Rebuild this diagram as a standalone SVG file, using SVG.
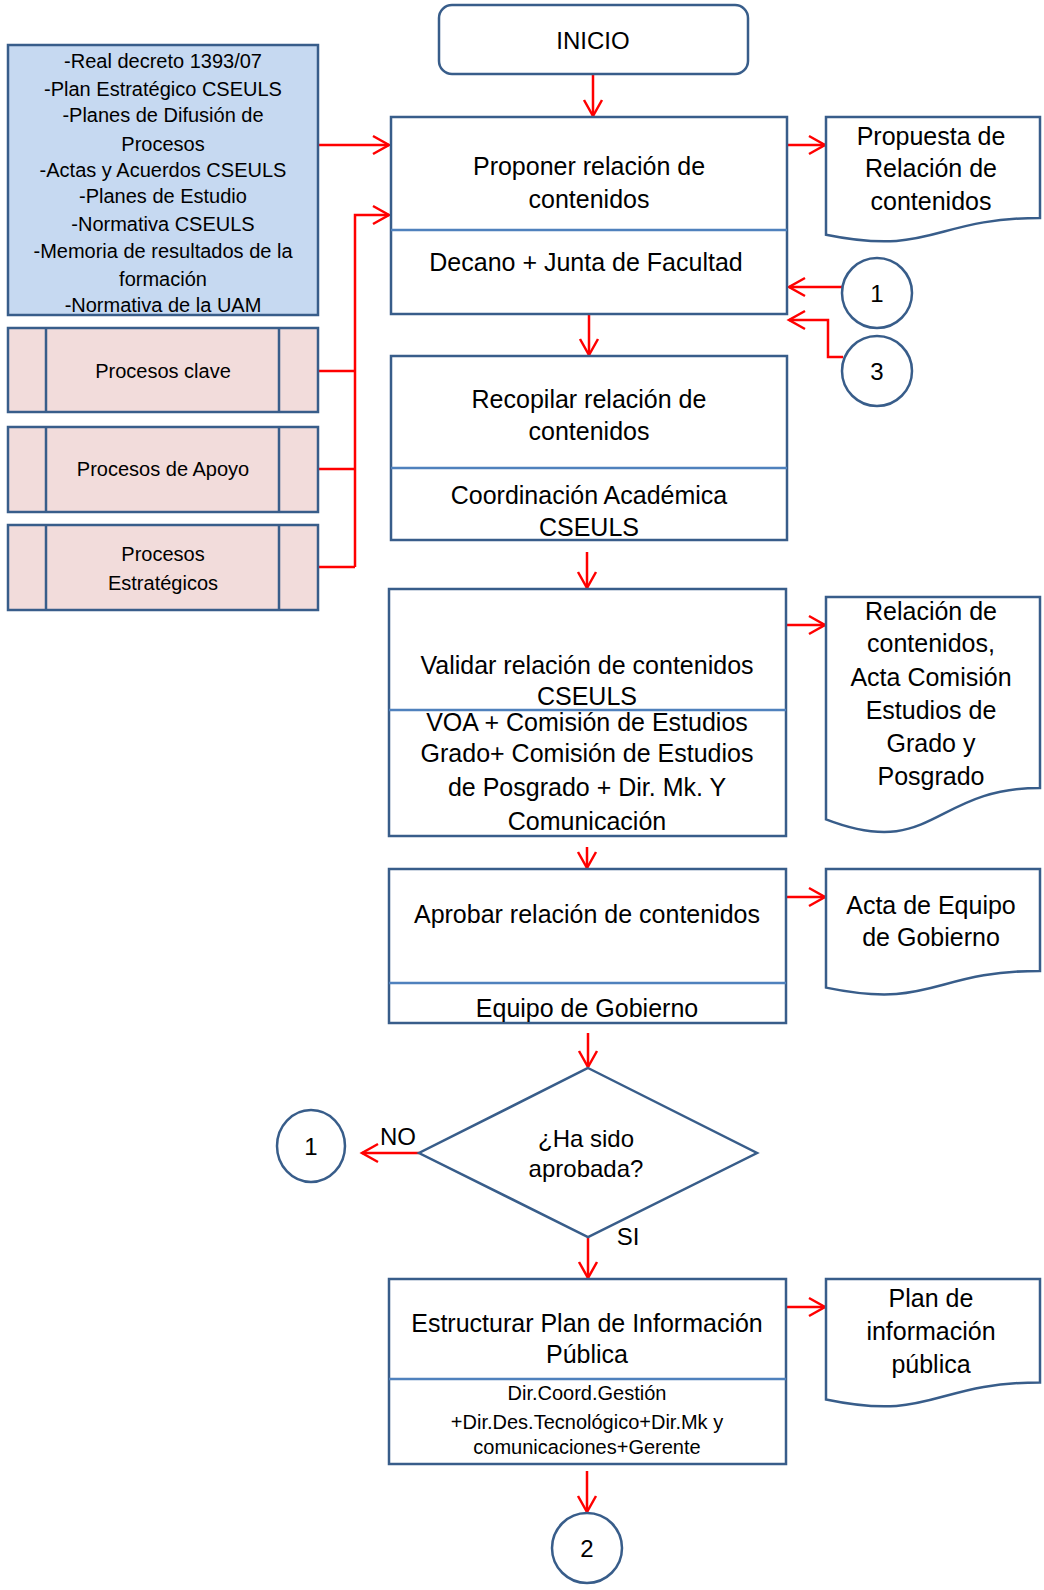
<svg xmlns="http://www.w3.org/2000/svg" width="1044" height="1590" viewBox="0 0 1044 1590">
<defs>
<style>
.box{fill:#fff;stroke:#385D8A;stroke-width:2.5}
.inp{fill:#C6D9F1;stroke:#385D8A;stroke-width:2.5}
.proc{fill:#F2DCDB;stroke:#385D8A;stroke-width:2.5}
.div{stroke:#4F81BD;stroke-width:2.5;fill:none}
.ln{stroke:#385D8A;stroke-width:2.5;fill:none}
.con{stroke:#FF0000;stroke-width:2.5;fill:none}
.arr{marker-end:url(#ah)}
text{font-family:"Liberation Sans",Arial,sans-serif;fill:#000;text-anchor:middle;dominant-baseline:central}
.t24{font-size:24px}
.t25{font-size:25px}
.t20{font-size:20px}
</style>
<marker id="ah" viewBox="-20 -12 24 24" markerWidth="24" markerHeight="24" refX="0" refY="0" orient="auto" markerUnits="userSpaceOnUse">
<path d="M-16,-9 L0,0 L-16,9" fill="none" stroke="#FF0000" stroke-width="2.5"/>
</marker>
</defs>

<g id="connectors">
<path class="con arr" d="M593,74 V116"/>
<path class="con arr" d="M318,145 H389"/>
<path class="con" d="M318,371 H355 M318,469 H355 M318,567 H355"/>
<path class="con arr" d="M355,567 V215 H389"/>
<path class="con arr" d="M787,145 H825"/>
<path class="con arr" d="M843,287 H789"/>
<path class="con arr" d="M843,357 H828 V320 H789"/>
<path class="con arr" d="M589,314 V355"/>
<path class="con arr" d="M587,552 V588"/>
<path class="con arr" d="M786,625 H825"/>
<path class="con arr" d="M587,847 V868"/>
<path class="con arr" d="M786,897 H825"/>
<path class="con arr" d="M588,1033 V1067"/>
<path class="con arr" d="M419,1153 H362"/>
<path class="con arr" d="M588,1237 V1278"/>
<path class="con arr" d="M786,1307 H825"/>
<path class="con arr" d="M587,1471 V1512"/>
</g>

<g id="inicio">
<rect class="box" x="439" y="5" width="309" height="69" rx="13"/>
<text class="t24" x="593" y="40">INICIO</text>
</g>

<g id="entradas">
<rect class="inp" x="8" y="45" width="310" height="270"/>
<text class="t20" x="163" y="61">-Real decreto 1393/07</text>
<text class="t20" x="163" y="89">-Plan Estratégico CSEULS</text>
<text class="t20" x="163" y="115">-Planes de Difusión de</text>
<text class="t20" x="163" y="144">Procesos</text>
<text class="t20" x="163" y="170">-Actas y Acuerdos CSEULS</text>
<text class="t20" x="163" y="196">-Planes de Estudio</text>
<text class="t20" x="163" y="224">-Normativa CSEULS</text>
<text class="t20" x="163" y="251">-Memoria de resultados de la</text>
<text class="t20" x="163" y="279">formación</text>
<text class="t20" x="163" y="305">-Normativa de la UAM</text>
</g>

<g id="procesos-clave">
<rect class="proc" x="8" y="328" width="310" height="84"/>
<path class="ln" d="M46,328 V412 M279,328 V412"/>
<text class="t20" x="163" y="371">Procesos clave</text>
</g>

<g id="procesos-apoyo">
<rect class="proc" x="8" y="427" width="310" height="85"/>
<path class="ln" d="M46,427 V512 M279,427 V512"/>
<text class="t20" x="163" y="469">Procesos de Apoyo</text>
</g>

<g id="procesos-estrategicos">
<rect class="proc" x="8" y="525" width="310" height="85"/>
<path class="ln" d="M46,525 V610 M279,525 V610"/>
<text class="t20" x="163" y="554">Procesos</text>
<text class="t20" x="163" y="583">Estratégicos</text>
</g>

<g id="proponer">
<rect class="box" x="391" y="117" width="396" height="197"/>
<line class="div" x1="391" y1="230" x2="787" y2="230"/>
<text class="t25" x="589" y="166">Proponer  relación de</text>
<text class="t25" x="589" y="199">contenidos</text>
<text class="t25" x="586" y="262">Decano + Junta de Facultad</text>
</g>

<g id="doc-propuesta">
<path class="box" d="M826,117 H1040 V218 C933,218 933,256.5 826,234.7 Z"/>
<text class="t25" x="931" y="136">Propuesta de</text>
<text class="t25" x="931" y="168">Relación de</text>
<text class="t25" x="931" y="201">contenidos</text>
</g>

<g id="conector-1-superior">
<circle class="box" cx="877" cy="293" r="35"/>
<text class="t24" x="877" y="293">1</text>
</g>

<g id="conector-3">
<circle class="box" cx="877" cy="371" r="35"/>
<text class="t24" x="877" y="371">3</text>
</g>

<g id="recopilar">
<rect class="box" x="391" y="356" width="396" height="184"/>
<line class="div" x1="391" y1="468" x2="787" y2="468"/>
<text class="t25" x="589" y="399">Recopilar relación de</text>
<text class="t25" x="589" y="431">contenidos</text>
<text class="t25" x="589" y="495">Coordinación Académica</text>
<text class="t25" x="589" y="527">CSEULS</text>
</g>

<g id="validar">
<rect class="box" x="389" y="589" width="397" height="247"/>
<line class="div" x1="389" y1="710" x2="786" y2="710"/>
<text class="t25" x="587" y="665">Validar relación de contenidos</text>
<text class="t25" x="587" y="696">CSEULS</text>
<text class="t25" x="587" y="722">VOA + Comisión de Estudios</text>
<text class="t25" x="587" y="753">Grado+ Comisión de Estudios</text>
<text class="t25" x="587" y="787">de Posgrado + Dir. Mk. Y</text>
<text class="t25" x="587" y="821">Comunicación</text>
</g>

<g id="doc-relacion">
<path class="box" d="M826,597 H1040 V787.9 C933,787.9 933,860.6 826,819.3 Z"/>
<text class="t25" x="931" y="611">Relación de</text>
<text class="t25" x="931" y="643">contenidos,</text>
<text class="t25" x="931" y="677">Acta Comisión</text>
<text class="t25" x="931" y="710">Estudios de</text>
<text class="t25" x="931" y="743">Grado y</text>
<text class="t25" x="931" y="776">Posgrado</text>
</g>

<g id="aprobar">
<rect class="box" x="389" y="869" width="397" height="154"/>
<line class="div" x1="389" y1="983" x2="786" y2="983"/>
<text class="t25" x="587" y="914">Aprobar relación de contenidos</text>
<text class="t25" x="587" y="1008">Equipo de Gobierno</text>
</g>

<g id="doc-acta">
<path class="box" d="M826,869 H1040 V970.9 C933,970.9 933,1009.7 826,987.6 Z"/>
<text class="t25" x="931" y="905">Acta de Equipo</text>
<text class="t25" x="931" y="937">de Gobierno</text>
</g>

<g id="decision">
<polygon class="box" points="588,1068 757,1153 588,1237 419,1153"/>
<text class="t24" x="586" y="1138">¿Ha sido</text>
<text class="t24" x="586" y="1168">aprobada?</text>
<text class="t24" x="398" y="1136">NO</text>
<text class="t24" x="628" y="1236">SI</text>
</g>

<g id="conector-1-inferior">
<ellipse class="box" cx="311" cy="1146" rx="34" ry="36"/>
<text class="t24" x="311" y="1146">1</text>
</g>

<g id="estructurar">
<rect class="box" x="389" y="1279" width="397" height="185"/>
<line class="div" x1="389" y1="1379" x2="786" y2="1379"/>
<text class="t25" x="587" y="1323">Estructurar Plan de Información</text>
<text class="t25" x="587" y="1354">Pública</text>
<text class="t20" x="587" y="1393">Dir.Coord.Gestión</text>
<text class="t20" x="587" y="1422">+Dir.Des.Tecnológico+Dir.Mk y</text>
<text class="t20" x="587" y="1447">comunicaciones+Gerente</text>
</g>

<g id="doc-plan">
<path class="box" d="M826,1279 H1040 V1382.5 C933,1382.5 933,1421.9 826,1399.5 Z"/>
<text class="t25" x="931" y="1298">Plan de</text>
<text class="t25" x="931" y="1331">información</text>
<text class="t25" x="931" y="1364">pública</text>
</g>

<g id="conector-2">
<circle class="box" cx="587" cy="1548" r="35"/>
<text class="t24" x="587" y="1548">2</text>
</g>
</svg>
